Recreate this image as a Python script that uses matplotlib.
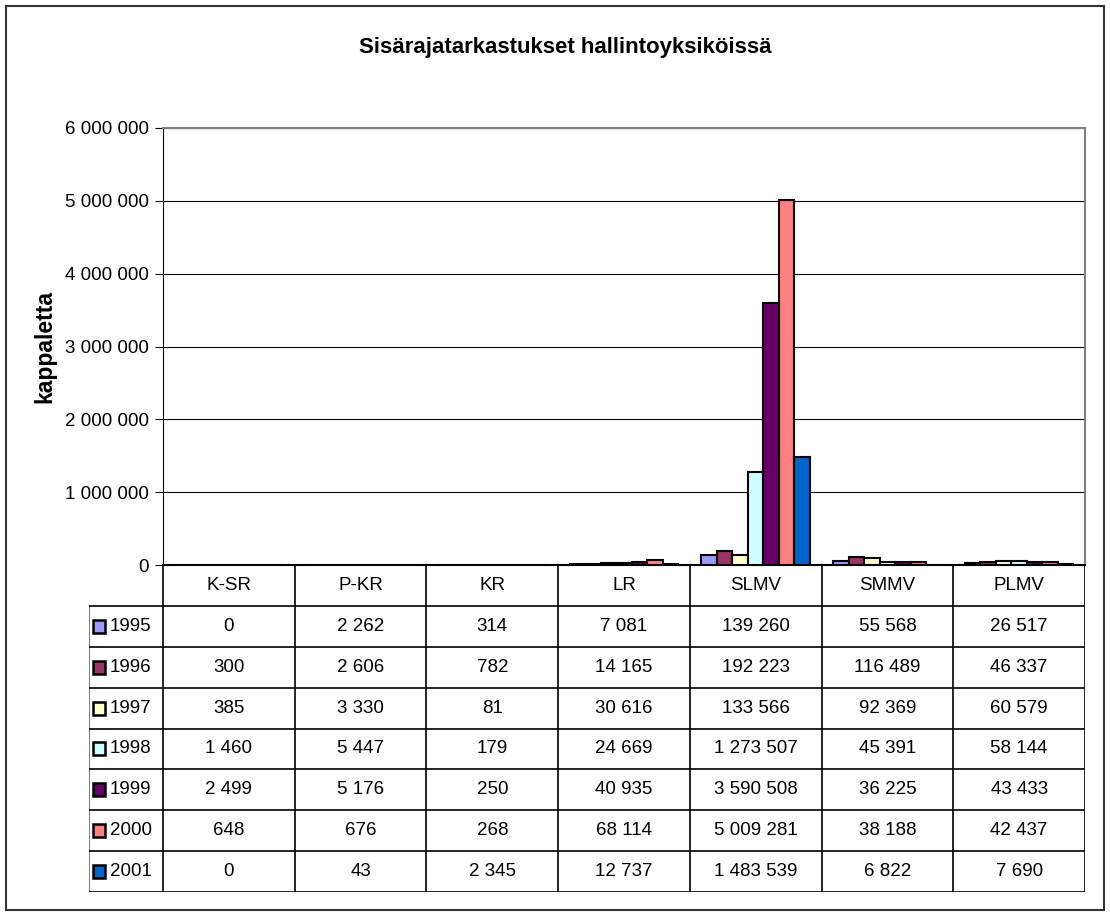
import matplotlib
matplotlib.use('Agg')
import matplotlib.pyplot as plt
from matplotlib import font_manager
import numpy as np
from matplotlib.patches import Rectangle

# Kapea fontti jos löytyy (Excelin tiivis teksti)
names = {f.name for f in font_manager.fontManager.ttflist}
if 'Liberation Sans Narrow' in names:
    body_font, body_size = 'Liberation Sans Narrow', 16.5
else:
    body_font, body_size = 'Liberation Sans', 13.5
plt.rcParams['font.family'] = ['Liberation Sans', 'DejaVu Sans']

# Datos
categories = ['K-SR', 'P-KR', 'KR', 'LR', 'SLMV', 'SMMV', 'PLMV']
years = ['1995', '1996', '1997', '1998', '1999', '2000', '2001']
colors = ['#9999FF', '#993366', '#FFFFCC', '#CCFFFF', '#660066', '#FF8080', '#0066CC']

v1995 = [0, 2262, 314, 7081, 139260, 55568, 26517]
v1996 = [300, 2606, 782, 14165, 192223, 116489, 46337]
v1997 = [385, 3330, 81, 30616, 133566, 92369, 60579]
v1998 = [1460, 5447, 179, 24669, 1273507, 45391, 58144]
v1999 = [2499, 5176, 250, 40935, 3590508, 36225, 43433]
v2000 = [648, 676, 268, 68114, 5009281, 38188, 42437]
v2001 = [0, 43, 2345, 12737, 1483539, 6822, 7690]
values = [v1995, v1996, v1997, v1998, v1999, v2000, v2001]

W, H = 1110, 917
fig = plt.figure(figsize=(W / 100, H / 100), dpi=100)


def px_axes(l, t, r, b):
    return fig.add_axes([l / W, 1 - b / H, (r - l) / W, (b - t) / H])


def fmt(v):
    return f"{int(v):,}".replace(",", " ")


body = dict(family=[body_font, 'DejaVu Sans'], fontsize=body_size)

# Pylväät
ax = px_axes(163, 128, 1085, 565)
x = np.arange(len(categories))
n = len(years)
bw = 1 / 8.5
for i, (vals, c) in enumerate(zip(values, colors)):
    ax.bar(x + (i - (n - 1) / 2) * bw, vals, bw, color=c,
           edgecolor='black', linewidth=1.5, zorder=3)

ax.set_xlim(-0.5, 6.5)
ax.set_ylim(0, 6_000_000)
ax.set_yticks(range(0, 6_000_001, 1_000_000))
ax.set_yticklabels([fmt(v) for v in range(0, 6_000_001, 1_000_000)], **body)
ax.grid(axis='y', color='black', linewidth=0.8, zorder=0)
ax.set_xticks([])
ax.tick_params(axis='y', length=6, direction='out', pad=4)
ax.spines['top'].set_color('#808080')
ax.spines['right'].set_color('#808080')
ax.spines['top'].set_linewidth(1.5)
ax.spines['right'].set_linewidth(1.5)
ax.spines['bottom'].set_linewidth(1.5)
ax.set_ylabel('kappaletta', fontweight='bold', fontsize=16.5)
ax.yaxis.set_label_coords((56 - 163) / 922, 0.5)

fig.text(565 / W, 1 - 47 / H, 'Sisärajatarkastukset hallintoyksiköissä',
         ha='center', va='center', fontsize=16, fontweight='bold')

# Taulukko
tb = px_axes(89, 565, 1085, 892)
leg_w = (163 - 89) / ((1085 - 163) / 7)
x0 = -0.5 - leg_w
tb.set_xlim(x0, 6.5)
tb.set_ylim(8, 0)
tb.axis('off')

for k in range(8):
    tb.plot([k - 0.5, k - 0.5], [0, 8], color='black', lw=1.2)
tb.plot([x0, x0], [1, 8], color='#808080', lw=1.5)
for r in range(1, 9):
    tb.plot([x0, 6.5], [r, r], color='black', lw=1.2)

for j, cat in enumerate(categories):
    tb.text(j, 0.5, cat, ha='center', va='center', **body)

unit = (1085 - 89) / (6.5 - x0)
rowpx = (892 - 565) / 8
for i, (yr, vals, c) in enumerate(zip(years, values, colors)):
    row = i + 1.5
    tb.add_patch(Rectangle((x0 + 4 / unit, row - 6.5 / rowpx), 12 / unit, 13 / rowpx,
                           facecolor=c, edgecolor='black', lw=1.8))
    tb.text(x0 + 21 / unit, row, yr, ha='left', va='center', **body)
    for j, v in enumerate(vals):
        tb.text(j, row, fmt(v), ha='center', va='center', **body)

fig.patches.append(Rectangle((6 / W, 1 - 910 / H), (1104 - 6) / W, (910 - 6) / H,
                             transform=fig.transFigure, fill=False,
                             ec='#333333', lw=1.5))

fig.savefig('out.png', dpi=100)
